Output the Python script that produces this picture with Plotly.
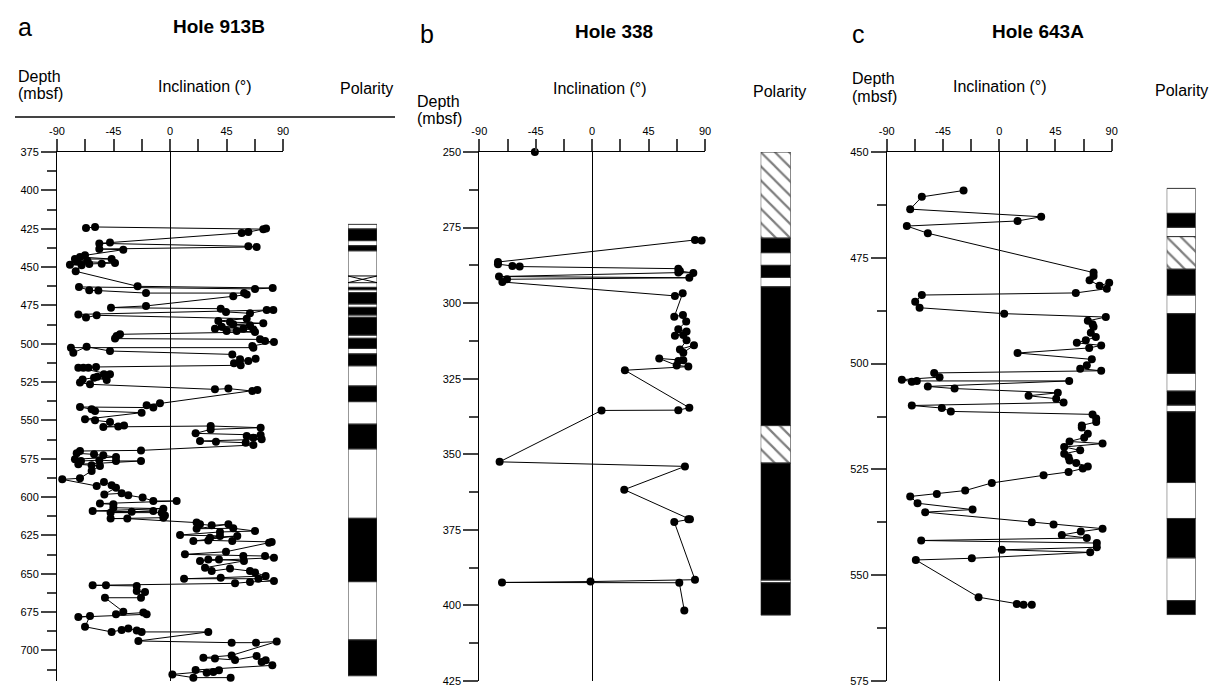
import plotly.graph_objects as go

# ---------------- DATA ----------------
# Panel a : Hole 913B
depth_a = [424.6, 423.9, 425.3, 424.9, 427.2, 427.8, 434.1, 434.6, 436.5, 436.9, 438.3, 438.7,
           442.4, 443.5, 444.8, 444.8, 445.9, 446.3, 447.4, 447.8, 448.0, 448.5, 448.9, 452.8,
           462.6, 463.7, 464.3, 463.0, 465.2, 465.4, 467.0, 467.0, 468.0, 469.1,
           475.4, 476.5, 477.2, 479.3, 480.2, 478.0, 478.0, 480.9, 483.0, 481.5,
           483.7, 485.2, 485.9, 486.7, 487.4, 488.0, 488.9, 490.2, 490.7, 490.2, 491.7, 491.7, 492.4,
           493.9, 495.0, 496.7, 497.2, 498.3, 498.9, 501.5, 502.6, 502.6, 505.9, 502.0, 504.8,
           507.0, 510.2, 511.3, 509.8, 512.8, 514.1, 515.2, 515.7, 515.7, 515.7,
           520.0, 520.0, 521.5, 523.7, 522.2, 523.3, 525.4, 526.5, 529.8, 529.3, 530.9, 530.2,
           538.9, 540.2, 541.7, 541.3, 542.8, 543.9, 545.0, 549.3, 550.0, 551.1, 554.1, 553.3, 554.3,
           553.7, 554.8, 555.9, 558.5, 559.6, 560.2, 561.3, 562.4, 563.5, 563.9, 564.6, 566.1,
           569.6, 570.0, 571.5, 572.2, 572.8, 573.9, 575.4, 576.5, 576.0, 576.5, 576.5,
           578.7, 579.3, 579.8, 583.0, 587.8, 588.5,
           592.8, 590.2, 592.4, 593.9, 598.3, 597.6, 598.9, 600.4, 602.6, 602.6,
           604.3, 604.8, 607.0, 607.6, 609.1, 609.6, 609.1, 610.2, 610.2, 612.0, 613.5, 614.1, 614.1,
           616.7, 617.8, 618.5, 617.8, 620.7, 620.4, 622.2, 622.8, 624.8, 625.4, 626.5, 625.4,
           628.7, 628.3, 628.7, 629.3, 629.8, 635.7, 637.4, 638.5, 638.5, 639.6,
           641.7, 640.7, 640.7, 641.7, 646.1, 648.3, 646.7, 648.3, 649.3, 651.5,
           652.6, 653.3, 653.3, 654.8, 655.4, 656.3,
           657.6, 657.6, 658.0, 661.3, 662.0, 665.7, 665.7, 674.8, 676.5, 675.4, 676.5, 678.3, 677.6,
           684.6, 688.0, 686.7, 685.7, 687.0, 688.0, 688.0, 693.9, 695.0, 695.0, 694.3,
           703.3, 704.8, 705.4, 706.3, 703.7, 707.6, 706.5, 709.8,
           712.8, 714.6, 714.1, 713.0, 715.7, 717.8, 717.8]
incl_a = [-66.9, -59.7, 74.3, 76.5, 62.4, 57.1, -47.8, -56.3, 62.4, 69.0, -56.3, -37.2,
          -67.7, -71.7, -46.5, -75.7, -65.8, -74.3, -43.8, -54.4, -64.3, -79.7, -70.4, -75.1,
          -25.8, 81.8, 67.7, -72.5, -64.3, -57.1, -19.1, 59.0, 61.1, 50.4,
          -19.1, -47.0, 40.4, 44.6, 63.7, 77.0, 82.3, -73.0, -66.9, -58.4,
          61.1, 38.5, 47.8, 74.3, 50.4, 63.7, 41.2, 58.4, 66.4, 35.8, 45.1, 53.1, 67.7,
          -39.8, -42.5, -43.8, 71.7, 75.7, 82.8, 65.6, 66.4, -78.9, -77.0, -66.4, -47.8,
          49.6, 55.8, 62.4, 68.2, 51.0, 56.3, -58.9, -65.0, -69.0, -73.0,
          -47.8, -52.6, -57.9, -50.4, -60.5, -69.6, -71.7, -63.7, 35.8, 46.5, 65.6, 69.6,
          -8.0, -18.6, -13.3, -71.7, -62.4, -59.7, -22.6, -67.7, -59.7, -47.8, -41.2, -36.6, -53.1,
          32.4, 72.2, 32.4, 20.4, 72.2, 61.1, 66.4, 73.0, 23.9, 36.6, 60.3, 66.4,
          -23.1, -71.7, -74.3, -60.5, -53.1, -43.0, -75.7, -70.9, -56.3, -43.0, -23.1,
          -73.0, -62.4, -55.8, -62.4, -71.7, -85.8,
          -58.4, -52.6, -46.5, -43.0, -52.3, -38.5, -33.2, -21.8, -13.3, 5.3,
          -55.8, -45.1, -45.1, -5.3, -61.6, -30.5, -13.3, -47.3, -6.6, -4.0, -5.3, -47.3, -34.0,
          21.2, 23.9, 33.2, 46.5, 21.2, 50.4, 67.7, 39.8, 8.0, 39.8, 31.9, 53.6,
          18.6, 30.5, 49.6, 81.0, 78.9, 44.6, 11.9, 58.4, 75.7, 82.8,
          23.9, 30.5, 39.0, 58.9, 27.9, 33.2, 47.8, 63.7, 67.7, 76.2,
          40.4, 11.2, 70.4, 82.8, 63.7, 51.8,
          -61.6, -51.0, -26.5, -26.5, -19.9, -23.1, -51.8, -37.2, -43.0, -21.2, -18.6, -73.0, -63.7,
          -67.7, -46.5, -38.5, -33.2, -26.5, -22.6, 30.5, -25.2, 49.1, 68.5, 85.0,
          49.1, 26.6, 35.8, 51.8, 69.0, 73.0, 76.2, 81.5,
          20.4, 29.2, 34.5, 39.0, 1.9, 18.6, 48.3]

# Panel b : Hole 338
depth_b = [250.0, 279.3, 279.1, 286.4, 287.1, 287.7, 287.9, 288.6, 289.4, 290.0, 289.9,
           291.2, 291.6, 292.1, 293.0, 297.6, 296.7,
           304.5, 303.9, 306.1, 308.6, 309.4, 310.8, 310.5, 312.3, 315.3, 313.9, 316.4,
           319.1, 318.9, 318.3, 320.6, 321.0, 322.2, 334.6, 335.4, 335.5,
           352.5, 354.0, 361.7, 371.5, 371.5, 372.4, 391.5, 392.1, 392.4, 392.5, 401.7]
incl_b = [-45.7, 87.3, 82.0, -75.1, -75.1, -63.6, -57.8, 68.7, 70.0, 80.7, 68.7,
          -74.3, 77.5, -67.9, -71.6, 66.0, 72.2,
          65.5, 72.4, 75.0, 68.7, 75.3, 66.0, 72.7, 75.3, 70.0, 81.2, 72.7,
          68.7, 72.7, 53.5, 67.4, 76.7, 26.1, 77.5, 68.7, 7.5,
          -73.8, 74.0, 25.6, 76.7, 78.0, 65.5, 82.0, -1.3, -71.9, 69.5, 73.5]

# Panel c : Hole 643A
depth_c = [459.1, 460.6, 463.5, 465.3, 466.3, 467.5, 469.2,
           478.5, 479.3, 480.3, 481.6, 480.9, 482.3, 483.3, 483.8, 485.4, 486.8, 488.2, 489.0,
           489.9, 490.7, 491.3, 492.7, 493.7, 494.5, 495.1, 495.7, 496.3, 497.5, 499.0,
           500.4, 501.2, 501.7, 502.2, 503.2, 503.8, 504.3, 504.1, 504.1,
           505.4, 505.9, 506.9, 507.6, 508.3, 509.2, 509.9, 510.5, 511.3,
           512.0, 513.0, 513.8, 514.6, 515.1, 516.6, 517.5, 518.4, 518.9, 519.7, 520.5, 521.3,
           522.1, 522.9, 523.5, 524.3, 524.8, 525.6, 526.4, 528.2, 530.0, 530.8, 531.4, 533.0,
           534.5, 535.1, 537.5, 538.0, 539.0, 539.7, 540.5, 541.2, 541.8, 542.4, 543.4, 544.0,
           544.6, 546.0, 546.4, 555.2, 556.8, 557.0, 557.0]
incl_c = [-28.5, -61.9, -71.2, 33.6, 14.7, -73.9, -57.1,
          75.5, 75.5, 72.3, 80.3, 88.0, 86.1, 61.3, -61.9, -67.2, -63.7, 4.0, 85.3,
          70.9, 74.7, 75.5, 73.3, 77.3, 69.3, 62.1, 81.6, 72.0, 14.7, 74.1,
          70.1, 64.8, 81.6, -52.0, -47.7, -77.9, -69.9, -65.9, 56.0,
          -57.1, -35.7, 46.9, 23.5, 45.6, 51.5, -69.9, -45.9, -38.7,
          74.7, 77.6, 77.6, 66.1, 66.1, 70.9, 68.0, 56.3, 82.7, 52.0, 64.8, 52.0,
          55.5, 56.3, 61.6, 70.9, 66.9, 55.5, 35.5, -5.9, -27.2, -49.9, -71.2, -65.3,
          -21.3, -59.2, 26.1, 43.5, 82.7, 65.3, 50.1, 70.1, -62.4, 78.1, 78.1, 2.1,
          72.8, -21.9, -66.7, -16.5, 14.1, 19.5, 26.1]

# Polarity zones: boundaries (depth, mbsf) and zone type
# N = normal (black), R = reversed (white), U = uncertain (hatched), X = crossed box
pol_bounds_a = [422.2, 425.2, 432.8, 436.1, 439.4, 455.9, 460.2, 463.3, 464.8, 466.7, 474.1,
                476.3, 481.3, 482.8, 494.4, 496.5, 503.1, 506.7, 514.4, 527.6, 537.8, 552.5,
                568.6, 613.9, 655.2, 693.2, 716.6]
pol_types_a = ['R', 'N', 'R', 'N', 'R', 'X', 'R', 'N', 'R', 'N', 'R', 'N', 'R', 'N', 'R', 'N',
               'R', 'N', 'R', 'N', 'R', 'N', 'R', 'N', 'R', 'N']
pol_bounds_b = [250.0, 278.5, 283.3, 287.5, 291.5, 294.6, 340.5, 352.9, 391.6, 392.5, 403.2]
pol_types_b = ['U', 'N', 'R', 'N', 'R', 'N', 'U', 'N', 'R', 'N']
pol_bounds_c = [458.6, 464.5, 467.8, 470.0, 477.7, 483.8, 488.2, 502.3, 506.5, 509.8, 511.4,
                528.1, 536.6, 545.9, 556.0, 559.3]
pol_types_c = ['R', 'N', 'R', 'U', 'N', 'R', 'N', 'R', 'N', 'R', 'N', 'R', 'N', 'R', 'N']

incl_ticks = [-90, -67.5, -45, -22.5, 0, 22.5, 45, 67.5, 90]
incl_ticktext = ['-90', '', '-45', '', '0', '', '45', '', '90']

holes = ['Hole 913B', 'Hole 338', 'Hole 643A']
letters = ['a', 'b', 'c']
depth_ranges = [(375, 720), (250, 425), (450, 575)]

# ---------------- LAYOUT GEOMETRY (pixels) ----------------
W, H = 1209, 691
FONT = 'Liberation Sans, Arial, sans-serif'


def px(x):
    return x / W


def py(y):
    return 1 - y / H


plot_x = [(57, 283), (479.3, 705), (886.7, 1111.7)]
pol_x = [(348, 377), (760.7, 790.7), (1166.7, 1195.7)]
plot_top, plot_bot = 152, 681

fig = go.Figure()
layout = dict(width=W, height=H, margin=dict(l=0, r=0, t=0, b=0, autoexpand=False),
              paper_bgcolor='white', plot_bgcolor='rgba(0,0,0,0)',
              showlegend=False, barmode='overlay', annotations=[], shapes=[])

datasets = [(depth_a, incl_a), (depth_b, incl_b), (depth_c, incl_c)]
pols = [(pol_bounds_a, pol_types_a), (pol_bounds_b, pol_types_b), (pol_bounds_c, pol_types_c)]

for i in range(3):
    yi = i + 1
    xm, xb, xp = 3 * i + 1, 3 * i + 2, 3 * i + 3
    ysfx = '' if yi == 1 else str(yi)
    xmsfx = '' if xm == 1 else str(xm)
    yname = 'yaxis' + ysfx
    ydom = [py(plot_bot), py(plot_top)]
    d0, d1 = depth_ranges[i]
    layout[yname] = dict(domain=ydom, range=[d1, d0], anchor='x' + xmsfx, automargin=False,
                         showline=True, linecolor='black', linewidth=1,
                         ticks='outside', ticklen=15, tickwidth=1.5, tickcolor='#444',
                         tickmode='linear', tick0=d0, dtick=25,
                         minor=dict(ticks='outside', ticklen=9, tickwidth=1.5,
                                    tickcolor='#444', tick0=d0, dtick=12.5),
                         tickfont=dict(family=FONT, size=11, color='black'),
                         showgrid=False, zeroline=False)
    layout['xaxis' + xmsfx] = dict(domain=[px(plot_x[i][0]), px(plot_x[i][1])],
                                   range=[-90, 90], side='top', anchor='y' + ysfx,
                                   automargin=False,
                                   showline=True, linecolor='black', linewidth=1,
                                   ticks='outside', ticklen=12, tickwidth=1.5, tickcolor='#444',
                                   tickmode='array', tickvals=incl_ticks, ticktext=incl_ticktext,
                                   tickfont=dict(family=FONT, size=11, color='black'),
                                   showgrid=False, zeroline=True, zerolinecolor='black',
                                   zerolinewidth=1)
    layout['xaxis' + str(xb)] = dict(domain=[px(plot_x[i][0]), px(plot_x[i][1])],
                                     range=[-90, 90], side='bottom', anchor='y' + ysfx,
                                     overlaying='x' + xmsfx, automargin=False,
                                     showline=True, linecolor='black', linewidth=1,
                                     ticks='outside', ticklen=12, tickwidth=1.5, tickcolor='#444',
                                     tickmode='array', tickvals=incl_ticks,
                                     showticklabels=False, showgrid=False, zeroline=False)
    layout['xaxis' + str(xp)] = dict(domain=[px(pol_x[i][0]), px(pol_x[i][1])],
                                     range=[0, 1], anchor='y' + ysfx, visible=False,
                                     automargin=False, fixedrange=True)

    dep, inc = datasets[i]
    start = 1 if i == 1 else 0
    fig.add_trace(go.Scatter(x=inc[start:], y=dep[start:], mode='lines+markers',
                             line=dict(color='black', width=1),
                             marker=dict(color='black', size=8),
                             xaxis='x' + xmsfx, yaxis='y' + ysfx, cliponaxis=False,
                             hoverinfo='x+y'))
    if start:
        fig.add_trace(go.Scatter(x=inc[:start], y=dep[:start], mode='markers',
                                 marker=dict(color='black', size=8),
                                 xaxis='x' + xmsfx, yaxis='y' + ysfx, cliponaxis=False))

    # polarity column
    bounds, types = pols[i]
    styles = {
        'N': dict(color='black'),
        'R': dict(color='white'),
        'X': dict(color='white'),
        'U': dict(color='white', pattern=dict(shape='\\', fgcolor='black', bgcolor='white',
                                              size=10, solidity=0.22)),
    }
    for t in ['R', 'X', 'U', 'N']:
        tops = [bounds[k] for k in range(len(types)) if types[k] == t]
        thick = [bounds[k + 1] - bounds[k] for k in range(len(types)) if types[k] == t]
        if not tops:
            continue
        mk = dict(styles[t])
        mk['line'] = dict(color='#333', width=1)
        fig.add_trace(go.Bar(x=[0.5] * len(tops), y=thick, base=tops, width=1,
                             marker=mk, xaxis='x' + str(xp), yaxis='y' + ysfx,
                             hoverinfo='skip'))
    for k in range(len(types)):
        if types[k] == 'X':
            a, b = bounds[k], bounds[k + 1]
            fig.add_trace(go.Scatter(x=[0, 1, None, 0, 1], y=[a, b, None, b, a], mode='lines',
                                     line=dict(color='black', width=1),
                                     xaxis='x' + str(xp), yaxis='y' + ysfx, hoverinfo='skip'))

# ---------------- HEADER TEXT ----------------
def ann(text, x, y, size, xanchor='left', bold=False):
    layout['annotations'].append(dict(
        text=('<b>%s</b>' % text) if bold else text, x=px(x), y=py(y),
        xref='paper', yref='paper', xanchor=xanchor, yanchor='middle', showarrow=False,
        font=dict(family=FONT, size=size, color='black')))


letter_pos = [(16, 27), (418, 34), (850, 34)]
title_pos = [(219, 26), (614, 32), (1038, 32)]
depth_pos = [(16, 76, 94), (415, 102, 119), (850, 79, 97)]
incl_pos = [(205, 86), (600, 89), (1000, 86)]
pol_pos = [(366, 89), (779, 92), (1181, 90)]
for i in range(3):
    ann(letters[i], letter_pos[i][0], letter_pos[i][1], 25)
    ann(holes[i], title_pos[i][0], title_pos[i][1], 19, xanchor='center', bold=True)
    ann('Depth', depth_pos[i][0], depth_pos[i][1], 16)
    ann('(mbsf)', depth_pos[i][0], depth_pos[i][2], 16)
    ann('Inclination (°)', incl_pos[i][0], incl_pos[i][1], 16, xanchor='center')
    ann('Polarity', pol_pos[i][0], pol_pos[i][1], 16, xanchor='center')

layout['shapes'].append(dict(type='line', xref='paper', yref='paper',
                             x0=px(15), x1=px(395), y0=py(117), y1=py(117),
                             line=dict(color='#444', width=2)))

fig.update_layout(**layout)
fig.write_html('out.html', config={'displayModeBar': False},
               post_script="document.body.style.margin='0px';"
                           "document.body.style.overflow='hidden';")
